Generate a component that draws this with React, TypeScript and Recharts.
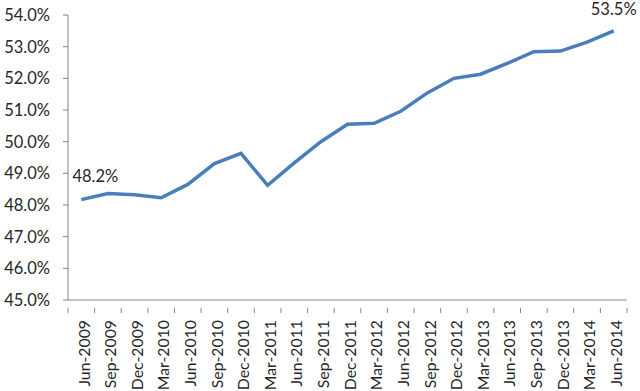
import * as React from "react";
import { LineChart, Line, XAxis, YAxis } from "recharts";

const quarters = [
  "Jun-2009", "Sep-2009", "Dec-2009", "Mar-2010", "Jun-2010", "Sep-2010", "Dec-2010",
  "Mar-2011", "Jun-2011", "Sep-2011", "Dec-2011", "Mar-2012", "Jun-2012", "Sep-2012",
  "Dec-2012", "Mar-2013", "Jun-2013", "Sep-2013", "Dec-2013", "Mar-2014", "Jun-2014",
];

const shares = [
  48.17, 48.36, 48.32, 48.23, 48.65, 49.31, 49.63,
  48.62, 49.33, 50.0, 50.55, 50.58, 50.96, 51.54,
  52.0, 52.13, 52.47, 52.84, 52.86, 53.14, 53.5,
];

const yTicks = [45, 46, 47, 48, 49, 50, 51, 52, 53, 54];

const data = quarters.map((q, i) => ({ q, v: shares[i] }));

const FONT = "Lato, 'Open Sans', sans-serif";
const FS = 16.5;
const AXIS = "#868686";
const TEXT = "#262626";
const PLOT_W = 559;
const BAND = PLOT_W / quarters.length;

function QuarterTick(props: any) {
  const { x, y, payload, index, visibleTicksCount } = props;
  const last = index === (visibleTicksCount ?? quarters.length) - 1;
  return (
    <g>
      <line x1={x - BAND / 2} y1={y} x2={x - BAND / 2} y2={y + 5} stroke={AXIS} />
      {last && <line x1={x + BAND / 2} y1={y} x2={x + BAND / 2} y2={y + 5} stroke={AXIS} />}
      <text
        transform={`translate(${x},${y + 12}) rotate(-90)`}
        textAnchor="end"
        dy="0.52em"
        fill={TEXT}
        fontSize={15.8}
        fontFamily={FONT}
      >
        {payload.value}
      </text>
    </g>
  );
}

// end labels drawn through the dot renderer so they sit on the real point
function EndLabel(props: any) {
  const { cx, cy, index, value } = props;
  if (index !== 0 && index !== shares.length - 1) return <g key={index} />;
  const first = index === 0;
  return (
    <text
      key={index}
      x={cx + (first ? 14 : 0)}
      y={cy - (first ? 18 : 16)}
      textAnchor="middle"
      fill={TEXT}
      fontSize={FS}
      fontFamily={FONT}
    >
      {Number(value).toFixed(1)}%
    </text>
  );
}

export default function App() {
  return (
    <div style={{ position: "absolute", left: 0, top: 0, background: "#fff" }}>
      <LineChart
        width={640}
        height={391}
        data={data}
        margin={{ top: 15, right: 13, left: 0, bottom: 0 }}
      >
        <XAxis
          dataKey="q"
          interval={0}
          height={91}
          padding={{ left: BAND / 2, right: BAND / 2 }}
          stroke={AXIS}
          tickLine={false}
          tick={<QuarterTick />}
        />
        <YAxis
          domain={[45, 54]}
          ticks={yTicks}
          width={68}
          stroke={AXIS}
          tickSize={5}
          tickMargin={13}
          tick={{ fill: TEXT, fontSize: FS, fontFamily: FONT }}
          tickFormatter={(v: number) => `${v.toFixed(1)}%`}
        />
        <Line
          type="linear"
          dataKey="v"
          stroke="#4A7EBB"
          strokeWidth={3.5}
          dot={<EndLabel />}
          activeDot={false}
          isAnimationActive={false}
        />
      </LineChart>
    </div>
  );
}
